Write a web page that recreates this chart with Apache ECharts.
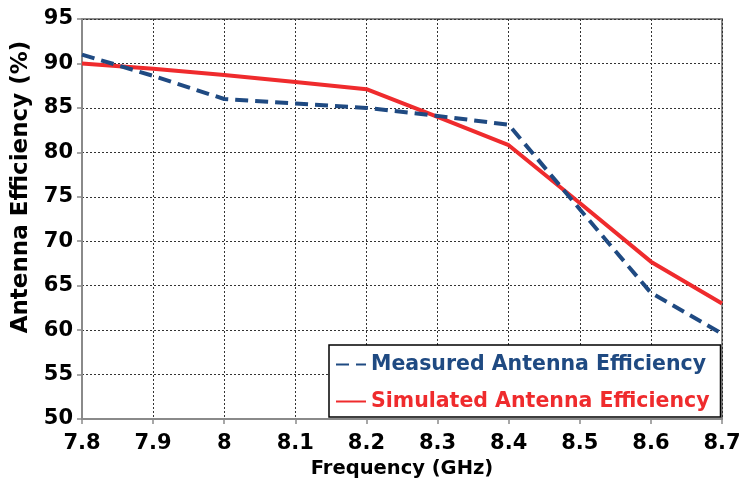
<!DOCTYPE html>
<html>
<head>
<meta charset="utf-8">
<script src="https://cdn.jsdelivr.net/npm/echarts@6/dist/echarts.min.js"></script>
<style>
  html, body { margin: 0; padding: 0; background: #fff; }
  #chart { width: 742px; height: 481px; }
</style>
</head>
<body>
<div id="chart"></div>
<script>
// frequency points (GHz)
var freqs = ["7.8", "7.9", "8", "8.1", "8.2", "8.3", "8.4", "8.5", "8.6", "8.7"];
// efficiency (%)
var measured = [91, 88.6, 86, 85.5, 85, 84.1, 83.1, 73.6, 64.2, 59.6];
var simulated = [90, 89.4, 88.7, 87.9, 87.1, 84, 80.8, 74.3, 67.7, 63];

var blue = "#1f4a82";
var red = "#ef2b2d";
var font = "DejaVu Sans";

var myChart = echarts.init(document.getElementById("chart"));
myChart.setOption({
  animation: false,
  grid: {
    left: 82,
    right: 20,
    top: 19,
    bottom: 62,
    containLabel: false,
    outerBoundsMode: "none",
    show: true,
    borderColor: "#8a8a8a",
    borderWidth: 2
  },
  legend: {
    orient: "vertical",
    left: 329,
    top: 345,
    padding: [9, 11, 5, 6],
    itemGap: 16,
    itemWidth: 30,
    itemHeight: 14,
    borderColor: "#000",
    borderWidth: 1.5,
    backgroundColor: "#fff",
    itemStyle: { opacity: 0 },
    data: [
      { name: "Measured Antenna Efficiency", textStyle: { color: blue } },
      { name: "Simulated Antenna Efficiency", textStyle: { color: red } }
    ],
    textStyle: {
      fontFamily: font,
      fontWeight: "bold",
      fontSize: 20.5
    }
  },
  xAxis: {
    type: "category",
    boundaryGap: false,
    data: freqs,
    name: "Frequency (GHz)",
    nameLocation: "middle",
    nameGap: 38,
    nameTextStyle: {
      fontFamily: font,
      fontWeight: "bold",
      fontSize: 19.5,
      color: "#000"
    },
    axisLine: { lineStyle: { color: "#8a8a8a", width: 2 } },
    axisTick: { show: true, length: 5, lineStyle: { color: "#8a8a8a", width: 1.5 } },
    axisLabel: {
      fontFamily: font,
      fontWeight: "bold",
      fontSize: 21,
      color: "#000",
      margin: 14
    },
    splitLine: {
      show: true,
      lineStyle: { color: "#333", width: 1, type: [2, 2] }
    }
  },
  yAxis: {
    type: "value",
    min: 50,
    max: 95,
    interval: 5,
    name: "Antenna Efficiency (%)",
    nameLocation: "middle",
    nameGap: 44,
    nameTextStyle: {
      fontFamily: font,
      fontWeight: "bold",
      fontSize: 23,
      color: "#000",
      padding: [0, 0, 0, 64]
    },
    axisLine: { show: true, lineStyle: { color: "#8a8a8a", width: 2 } },
    axisTick: { show: true, length: 5, lineStyle: { color: "#8a8a8a", width: 1.5 } },
    axisLabel: {
      fontFamily: font,
      fontWeight: "bold",
      fontSize: 21,
      color: "#000",
      margin: 9
    },
    splitLine: {
      show: true,
      lineStyle: { color: "#333", width: 1, type: [2, 2] }
    }
  },
  series: [
    {
      name: "Measured Antenna Efficiency",
      type: "line",
      data: measured,
      symbol: "none",
      z: 3,
      lineStyle: { color: blue, width: 4, type: [13, 7] },
      itemStyle: { color: blue }
    },
    {
      name: "Simulated Antenna Efficiency",
      type: "line",
      data: simulated,
      symbol: "none",
      z: 2,
      lineStyle: { color: red, width: 4 },
      itemStyle: { color: red }
    }
  ]
});
</script>
</body>
</html>
